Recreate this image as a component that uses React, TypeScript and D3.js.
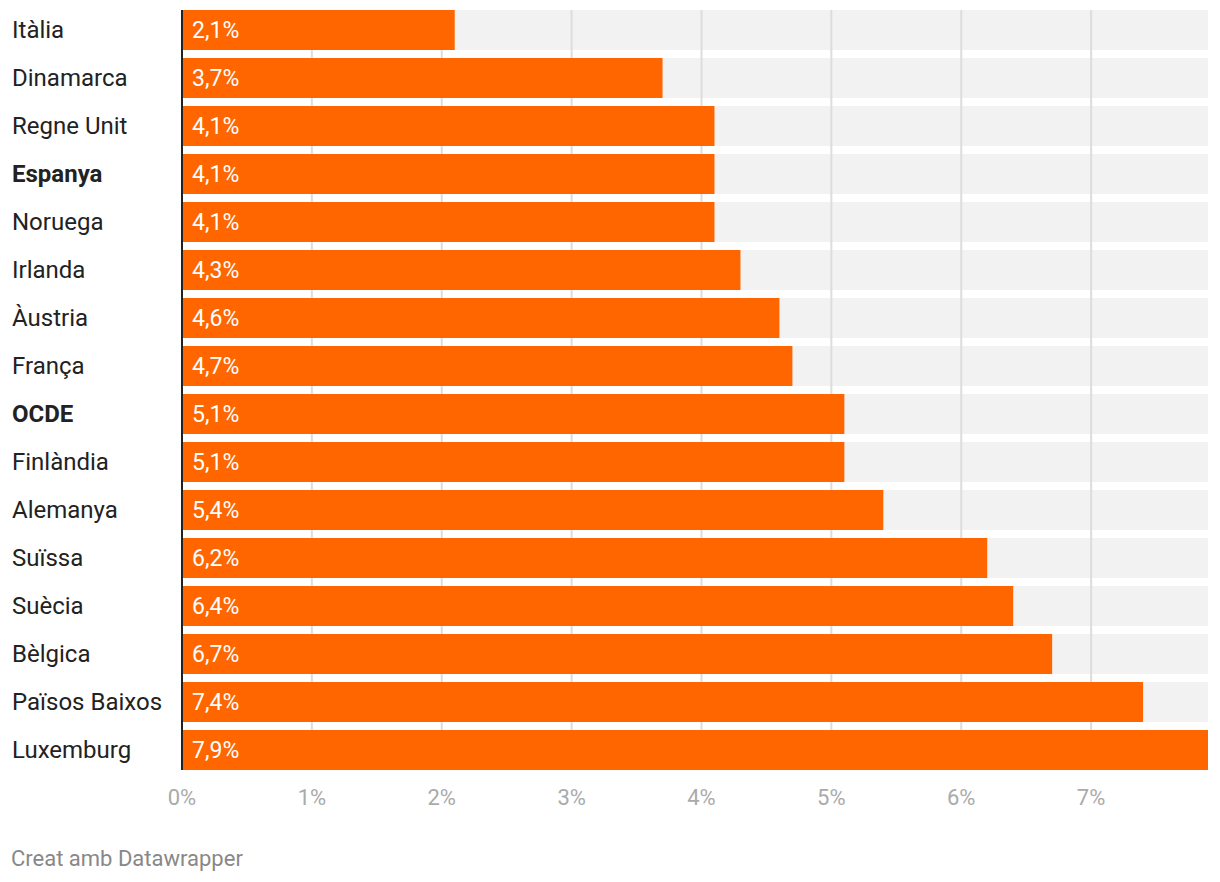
import React from "react";
import * as d3 from "d3";

const countries = ["Itàlia","Dinamarca","Regne Unit","Espanya","Noruega","Irlanda","Àustria","França","OCDE","Finlàndia","Alemanya","Suïssa","Suècia","Bèlgica","Països Baixos","Luxemburg"];
const values = [2.1,3.7,4.1,4.1,4.1,4.3,4.6,4.7,5.1,5.1,5.4,6.2,6.4,6.7,7.4,7.9];
const boldRows = ["Espanya","OCDE"];
const ticks = [0,1,2,3,4,5,6,7];

export default function App() {
  const W = 1220, H = 882;
  const x0 = 182, x1 = 1208;
  const x = d3.scaleLinear().domain([0, 7.9]).range([x0, x1]);
  const y = d3.scaleBand<string>().domain(countries).range([10, 770]).paddingInner(8/48).paddingOuter(0);
  const fmt = (v: number) => v.toFixed(1).replace(".", ",") + "%";
  const font = "Roboto, sans-serif";
  return (
    <svg width={W} height={H} style={{position:"absolute", left:0, top:0, fontFamily: font}}>
      {countries.map(c => (
        <rect key={"bg"+c} x={x0} y={y(c)} width={x1 - x0} height={y.bandwidth()} fill="#f2f2f2" />
      ))}
      {ticks.filter(t => t > 0).map(t => (
        <line key={"g"+t} x1={x(t)} x2={x(t)} y1={10} y2={770} stroke="#dddddd" strokeWidth={2} />
      ))}
      {countries.map((c, i) => (
        <g key={c}>
          <rect x={x0} y={y(c)} width={x(values[i]) - x0} height={y.bandwidth()} fill="#ff6600" />
          <text x={x0 + 10} y={(y(c) as number) + y.bandwidth()/2} dy="0.35em" fill="#ffffff" fontSize={23}>{fmt(values[i])}</text>
          <text x={12} y={(y(c) as number) + y.bandwidth()/2} dy="0.35em" fill="#222222" fontSize={24} fontWeight={boldRows.includes(c) ? 700 : 400}>{c}</text>
        </g>
      ))}
      <line x1={x0} x2={x0} y1={10} y2={770} stroke="#222222" strokeWidth={2} />
      {ticks.map(t => (
        <text key={"t"+t} x={x(t)} y={797} dy="0.35em" textAnchor="middle" fill="#aaaaaa" fontSize={22}>{t + "%"}</text>
      ))}
      <text x={11} y={858} dy="0.35em" fill="#888888" fontSize={22}>Creat amb Datawrapper</text>
    </svg>
  );
}
